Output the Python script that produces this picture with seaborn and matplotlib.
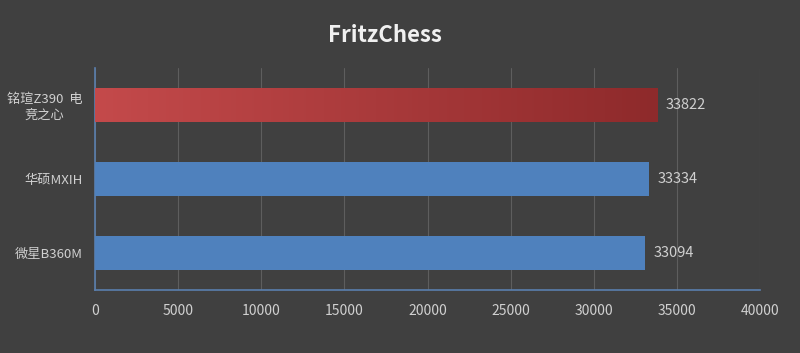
import numpy as np
import pandas as pd
import matplotlib.pyplot as plt
import seaborn as sns
from matplotlib.colors import LinearSegmentedColormap

# 데이터
boards = ['铭瑄Z390  电\n竞之心', '华硕MXIH', '微星B360M']
scores = [33822, 33334, 33094]
xticks = [0, 5000, 10000, 15000, 20000, 25000, 30000, 35000, 40000]

bg = '#404040'
txt = '#d0d0d0'

sns.set_style('dark')
plt.rcParams['font.family'] = ['Noto Sans CJK SC', 'DejaVu Sans']

df = pd.DataFrame({'board': boards, 'score': scores})

fig = plt.figure(figsize=(8, 3.53), dpi=100, facecolor=bg)
ax = fig.add_axes([95 / 800, 1 - 290 / 353, 665 / 800, 222 / 353])
ax.set_facecolor(bg)

sns.barplot(data=df, x='score', y='board', hue='board',
            palette=['#b8393b', '#4f81bd', '#4f81bd'],
            width=0.45, saturation=1, legend=False, ax=ax, zorder=3,
            linewidth=0)

# 첫 번째 막대에 그라데이션
p = ax.patches[0]
x0, y0 = p.get_x(), p.get_y()
w, h = p.get_width(), p.get_height()
grad = np.linspace(0, 1, 256).reshape(1, -1)
cm = LinearSegmentedColormap.from_list('rg', ['#c44a4b', '#8e2a2b'])
im = ax.imshow(grad, extent=[x0, x0 + w, y0 + h, y0], aspect='auto',
               cmap=cm, zorder=4)
im.set_clip_path(p)

for p, v in zip(ax.patches, scores):
    ax.text(v + 500, p.get_y() + p.get_height() / 2, str(v),
            va='center', ha='left', color=txt, fontsize=10.5, zorder=5)

ax.set_xlim(0, 40000)
ax.set_ylim(2.5, -0.5)
ax.set_xticks(xticks)
ax.set_xticklabels([str(t) for t in xticks], color=txt, fontsize=10)
ax.tick_params(axis='y', colors=txt, labelsize=9.5, length=0, pad=9)
ax.tick_params(axis='x', length=0, pad=10)
for lab in ax.get_yticklabels():
    lab.set_multialignment('center')
ax.set_xlabel('')
ax.set_ylabel('')
ax.grid(axis='x', color='#5e5e5e', linewidth=0.8, zorder=0)
ax.grid(axis='y', visible=False)

for s in ['top', 'right']:
    ax.spines[s].set_visible(False)
for s in ['left', 'bottom']:
    ax.spines[s].set_visible(True)
    ax.spines[s].set_color('#5a7fae')
    ax.spines[s].set_linewidth(1.2)

fig.text(385 / 800, 1 - 35 / 353, 'FritzChess', ha='center', va='center',
         color='#f0f0f0', fontsize=16, fontweight='bold')

fig.savefig('out.png', dpi=100, facecolor=bg)
